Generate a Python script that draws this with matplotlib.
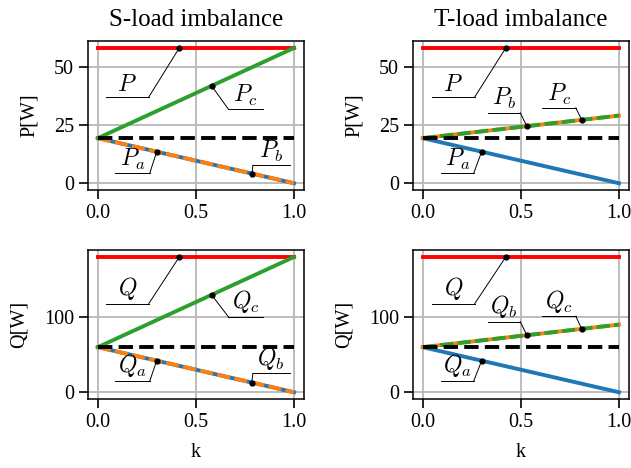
import numpy as np
import matplotlib
matplotlib.use("Agg")
import matplotlib.pyplot as plt

plt.rcParams["font.family"] = "serif"
plt.rcParams["font.serif"] = ["Liberation Serif", "DejaVu Serif"]
plt.rcParams["mathtext.fontset"] = "cm"

# imbalance factor
k = [0.0, 1.0]

# balanced per-phase values
P0 = 19.33
Q0 = 60.0

# S-load imbalance
s_P = [58.0, 58.0]
s_Pa = [19.33, 0.0]
s_Pb = [19.33, 0.0]
s_Pc = [19.33, 58.0]
s_Q = [180.0, 180.0]
s_Qa = [60.0, 0.0]
s_Qb = [60.0, 0.0]
s_Qc = [60.0, 180.0]

# T-load imbalance
t_P = [58.0, 58.0]
t_Pa = [19.33, 0.0]
t_Pb = [19.33, 29.0]
t_Pc = [19.33, 29.0]
t_Q = [180.0, 180.0]
t_Qa = [60.0, 0.0]
t_Qb = [60.0, 90.0]
t_Qc = [60.0, 90.0]

LW = 2.8
OVER = (3.4, 1.1)  # dash pattern for overlapping phases


def draw_panel(ax, tot, a, b, c, base, dash_b, labels, notes, ylabel, yticks):
    ax.grid(True, color="#b8b8b8", lw=1.3, zorder=0)
    ax.plot(k, tot, color="red", lw=LW, zorder=2)
    if dash_b:
        # phase b dashed on top of phase a, phase c alone
        ax.plot(k, a, color="tab:blue", lw=LW, zorder=2)
        ax.plot(k, b, color="tab:orange", lw=LW, dashes=OVER, zorder=3)
        ax.plot(k, c, color="tab:green", lw=LW, zorder=2)
    else:
        # phase c dashed on top of phase b
        ax.plot(k, a, color="tab:blue", lw=LW, zorder=2)
        ax.plot(k, b, color="tab:orange", lw=LW, zorder=2)
        ax.plot(k, c, color="tab:green", lw=LW, dashes=OVER, zorder=3)
    ax.plot(k, [base, base], color="black", lw=LW, ls="--", zorder=4)

    series = {"tot": tot, "a": a, "b": b, "c": c}
    for key, kd, u0, u1, uy, side in notes:
        yd = np.interp(kd, k, series[key])
        xa = u1 if side == "right" else u0
        ax.plot([u0, u1], [uy, uy], color="black", lw=0.7, zorder=5,
                scalex=False, scaley=False)
        ax.plot([xa, kd], [uy, yd], color="black", lw=0.7, zorder=5,
                scalex=False, scaley=False)
        ax.plot([kd], [yd], "o", color="black", ms=3.5, zorder=6,
                scalex=False, scaley=False)
        ax.annotate(labels[key], xy=((u0 + u1) / 2, uy), xytext=(0, 1),
                    textcoords="offset points", ha="center", va="bottom",
                    fontsize=17)

    ax.set_xticks([0.0, 0.5, 1.0])
    ax.set_yticks(yticks)
    ax.set_ylabel(ylabel, fontsize=14.5, labelpad=11)
    ax.tick_params(labelsize=14.5, length=6.5, width=1.2)
    for sp in ax.spines.values():
        sp.set_linewidth(1.1)


fig = plt.figure(figsize=(6.31, 4.68), dpi=100)
w, h = 0.342, 0.318
ax1 = fig.add_axes([0.1395, 0.594, w, h])
ax2 = fig.add_axes([0.6545, 0.594, w, h])
ax3 = fig.add_axes([0.1395, 0.1474, w, h])
ax4 = fig.add_axes([0.6545, 0.1474, w, h])

p_lab = {"tot": r"$P$", "a": r"$P_a$", "b": r"$P_b$", "c": r"$P_c$"}
q_lab = {"tot": r"$Q$", "a": r"$Q_a$", "b": r"$Q_b$", "c": r"$Q_c$"}

draw_panel(ax1, s_P, s_Pa, s_Pb, s_Pc, P0, True, p_lab, [
    ("tot", 0.415, 0.04, 0.26, 37.0, "right"),
    ("c", 0.58, 0.665, 0.84, 31.8, "left"),
    ("a", 0.30, 0.087, 0.265, 4.4, "right"),
    ("b", 0.787, 0.79, 0.977, 7.7, "left"),
], "P[W]", [0, 25, 50])

draw_panel(ax2, t_P, t_Pa, t_Pb, t_Pc, P0, False, p_lab, [
    ("tot", 0.423, 0.045, 0.265, 37.0, "right"),
    ("b", 0.53, 0.33, 0.497, 30.2, "right"),
    ("c", 0.81, 0.61, 0.78, 32.3, "right"),
    ("a", 0.30, 0.093, 0.26, 4.4, "right"),
], "P[W]", [0, 25, 50])

draw_panel(ax3, s_Q, s_Qa, s_Qb, s_Qc, Q0, True, q_lab, [
    ("tot", 0.415, 0.04, 0.26, 118.0, "right"),
    ("c", 0.58, 0.665, 0.84, 100.5, "left"),
    ("a", 0.30, 0.087, 0.265, 15.2, "right"),
    ("b", 0.785, 0.79, 0.977, 25.0, "left"),
], "Q[W]", [0, 100])

draw_panel(ax4, t_Q, t_Qa, t_Qb, t_Qc, Q0, False, q_lab, [
    ("tot", 0.423, 0.045, 0.265, 118.0, "right"),
    ("b", 0.53, 0.33, 0.497, 93.8, "right"),
    ("c", 0.81, 0.61, 0.78, 101.0, "right"),
    ("a", 0.30, 0.093, 0.26, 15.2, "right"),
], "Q[W]", [0, 100])

ax1.set_title("S-load imbalance", fontsize=18, pad=11)
ax2.set_title("T-load imbalance", fontsize=18, pad=11)
ax3.set_xlabel("k", fontsize=14.5, labelpad=8)
ax4.set_xlabel("k", fontsize=14.5, labelpad=8)

fig.savefig("out.png", dpi=100)
